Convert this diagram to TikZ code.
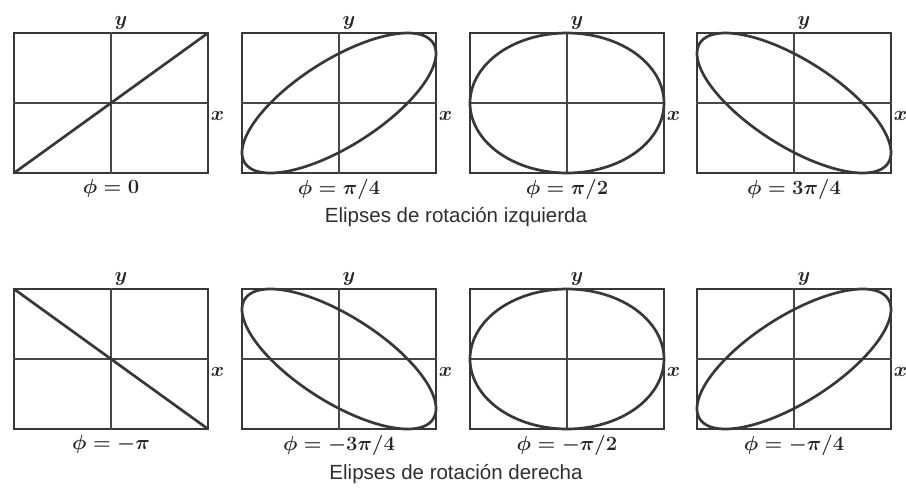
\documentclass[tikz,border=0pt]{standalone}
\usepackage{fontspec}
\setsansfont{Liberation Sans}
\usetikzlibrary{positioning}

\begin{document}
\begin{tikzpicture}[x=0.03cm, y=-0.03cm]

\tikzset{
  marco/.style={rectangle, draw=black!78, line width=2.3pt,
    minimum width=5.82cm, minimum height=4.2cm, inner sep=0pt},
  eje/.style={draw=black!72, line width=1.3pt},
  curva/.style={draw=black!78, line width=2.3pt, line join=round},
  etiq/.style={font=\boldmath\fontsize{18}{20}\selectfont, text=black!85, inner sep=1pt},
  etiqx/.style={font=\boldmath\fontsize{16}{18}\selectfont, text=black!85, inner sep=0pt},
  titulo/.style={font=\sffamily\fontsize{17.5}{20}\selectfont, text=black!82}
}

\useasboundingbox (0,0) rectangle (906,491);

% ---- PANELS ----
\foreach \i/\cx/\cy/\f/\lab in {
    1/111/103/0/{0}, 2/339/103/45/{\pi/4}, 3/567/103/90/{\pi/2}, 4/794/103/135/{3\pi/4},
    5/111/359/-180/{-\pi}, 6/339/359/-135/{-3\pi/4}, 7/567/359/-90/{-\pi/2}, 8/794/359/-45/{-\pi/4}}{
  \node[marco] (p\i) at (\cx,\cy) {};
  \draw[eje] (p\i.north) -- (p\i.south);
  \draw[eje] (p\i.west) -- (p\i.east);
  \draw[curva, shift={(p\i.center)}]
    plot[domain=0:360, samples=145, smooth] ({97*cos(\x)}, {-70*cos(\x+\f)});
  \node[etiq, above=1pt of p\i.north, xshift=0.3cm] (y\i) {$y$};
  \node[etiqx, right=1pt of p\i.east, yshift=-0.4cm] (x\i) {$x$};
  \node[etiq, below=3pt of p\i.south] (f\i) {$\phi = \lab$};
}

% ---- CAPTIONS ----
\node[titulo] (izq) at (456,217) {Elipses de rotación izquierda};
\node[titulo] (der) at (456,474) {Elipses de rotación derecha};

\end{tikzpicture}
\end{document}
